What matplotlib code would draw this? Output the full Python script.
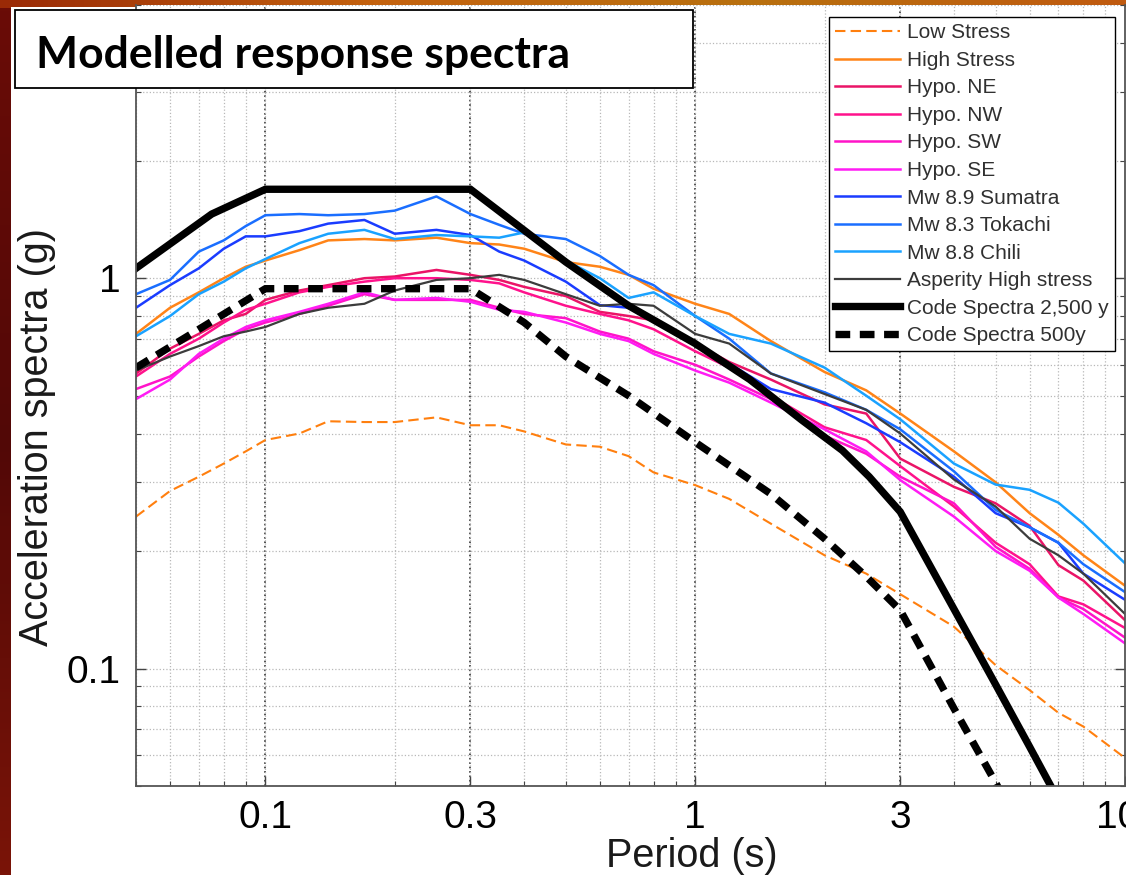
import matplotlib
matplotlib.use("Agg")
import matplotlib.pyplot as plt
import matplotlib.patches as patches
import matplotlib.transforms as mtransforms
import numpy as np

# periods (s) shared by the modelled spectra
periods = [0.05, 0.06, 0.07, 0.08, 0.09, 0.10, 0.12, 0.14, 0.17, 0.20,
           0.25, 0.30, 0.35, 0.40, 0.50, 0.60, 0.70, 0.80, 1.0, 1.2,
           1.5, 2.0, 2.5, 3.0, 4.0, 5.0, 6.0, 7.0, 8.0, 10.0]

low_stress = [0.245, 0.285, 0.31, 0.335, 0.36, 0.385, 0.40, 0.43, 0.428, 0.428,
              0.44, 0.42, 0.42, 0.405, 0.375, 0.37, 0.35, 0.318, 0.295, 0.272,
              0.235, 0.195, 0.175, 0.155, 0.128, 0.102, 0.088, 0.077, 0.071, 0.059]
high_stress = [0.72, 0.84, 0.92, 1.0, 1.07, 1.11, 1.18, 1.25, 1.26, 1.25,
               1.27, 1.23, 1.22, 1.19, 1.10, 1.07, 1.02, 0.94, 0.86, 0.81,
               0.69, 0.575, 0.516, 0.45, 0.36, 0.30, 0.25, 0.22, 0.195, 0.163]
hypo_ne = [0.57, 0.66, 0.72, 0.78, 0.81, 0.88, 0.93, 0.96, 1.0, 1.01,
           1.05, 1.02, 0.99, 0.95, 0.90, 0.82, 0.80, 0.78, 0.68, 0.61,
           0.55, 0.475, 0.45, 0.345, 0.292, 0.265, 0.232, 0.184, 0.168, 0.133]
hypo_nw = [0.56, 0.64, 0.70, 0.77, 0.83, 0.86, 0.92, 0.95, 0.98, 1.0,
           1.0, 0.99, 0.97, 0.92, 0.85, 0.81, 0.78, 0.74, 0.65, 0.59,
           0.50, 0.415, 0.385, 0.33, 0.26, 0.21, 0.185, 0.153, 0.146, 0.127]
hypo_sw = [0.52, 0.56, 0.63, 0.69, 0.74, 0.77, 0.81, 0.85, 0.91, 0.88,
           0.88, 0.88, 0.84, 0.81, 0.79, 0.73, 0.70, 0.65, 0.60, 0.55,
           0.49, 0.395, 0.355, 0.31, 0.265, 0.205, 0.18, 0.152, 0.142, 0.12]
hypo_se = [0.49, 0.55, 0.64, 0.70, 0.75, 0.78, 0.82, 0.86, 0.92, 0.88,
           0.89, 0.87, 0.83, 0.82, 0.77, 0.72, 0.69, 0.64, 0.58, 0.54,
           0.48, 0.41, 0.36, 0.304, 0.245, 0.20, 0.178, 0.152, 0.138, 0.116]
sumatra = [0.84, 0.96, 1.06, 1.19, 1.28, 1.28, 1.32, 1.38, 1.41, 1.30,
           1.33, 1.29, 1.17, 1.11, 0.98, 0.853, 0.84, 0.79, 0.675, 0.605,
           0.52, 0.48, 0.425, 0.38, 0.31, 0.25, 0.23, 0.21, 0.175, 0.15]
tokachi = [0.91, 0.99, 1.17, 1.25, 1.36, 1.45, 1.46, 1.45, 1.46, 1.49,
           1.62, 1.46, 1.37, 1.30, 1.26, 1.14, 1.02, 0.96, 0.80, 0.70,
           0.57, 0.51, 0.46, 0.41, 0.32, 0.255, 0.23, 0.21, 0.185, 0.157]
chili = [0.71, 0.80, 0.91, 0.98, 1.06, 1.12, 1.23, 1.30, 1.33, 1.26,
         1.29, 1.28, 1.27, 1.31, 1.11, 1.00, 0.89, 0.92, 0.80, 0.72,
         0.68, 0.59, 0.50, 0.435, 0.335, 0.296, 0.287, 0.266, 0.235, 0.186]
asperity = [0.58, 0.63, 0.67, 0.71, 0.73, 0.75, 0.81, 0.84, 0.86, 0.93,
            0.99, 1.0, 1.02, 0.99, 0.91, 0.85, 0.86, 0.85, 0.72, 0.68,
            0.57, 0.505, 0.46, 0.40, 0.305, 0.26, 0.215, 0.195, 0.175, 0.138]

# design code spectra
code_t_2500 = [0.05, 0.075, 0.1, 0.3, 0.5, 0.7, 1.0, 1.34, 1.77, 2.2, 2.54, 3.0,
               4.0, 5.0, 6.0, 7.0, 8.0, 10.0]
code_sa_2500 = [1.06, 1.46, 1.69, 1.69, 1.10, 0.85, 0.68, 0.55, 0.433, 0.362, 0.31, 0.252,
                0.142, 0.091, 0.063, 0.046, 0.035, 0.0225]
code_t_500 = [0.05, 0.1, 0.3, 0.4, 0.5, 0.7, 1.0, 1.5, 2.0, 2.5, 3.0,
              4.0, 5.0, 6.0, 7.0, 8.0, 10.0]
code_sa_500 = [0.59, 0.94, 0.94, 0.77, 0.63, 0.50, 0.38, 0.28, 0.215, 0.172, 0.141,
               0.079, 0.051, 0.035, 0.026, 0.020, 0.0127]

x_ticks = [0.1, 0.3, 1, 3, 10]
x_tick_labels = ["0.1", "0.3", "1", "3", "10"]
y_ticks = [0.1, 1]
y_tick_labels = ["0.1", "1"]

W, H = 1126, 875


def fx(px):
    return px / W


def fy(py):
    return 1 - py / H


plt.rcParams["font.family"] = ["Liberation Sans", "DejaVu Sans"]

fig = plt.figure(figsize=(W / 100, H / 100), dpi=100)
fig.patch.set_facecolor("#5e0c08")

# slide background strips
bg = fig.add_axes([0, 0, 1, 1], zorder=-10)
bg.axis("off")
grad = np.linspace(0, 1, 256).reshape(1, -1)
bg.imshow(grad, extent=[0, 1, fy(8), 1], aspect="auto",
          cmap=matplotlib.colors.LinearSegmentedColormap.from_list(
              "top", ["#9a2a06", "#c4620e", "#b8700e", "#c05a10"]))
vgrad = np.linspace(0, 1, 256).reshape(-1, 1)
bg.imshow(vgrad, extent=[0, fx(11), 0, fy(8)], aspect="auto",
          cmap=matplotlib.colors.LinearSegmentedColormap.from_list(
              "left", ["#6a0c06", "#520806", "#7a1408"]))
bg.add_patch(patches.Rectangle((fx(11), 0), 1 - fx(11), fy(7), facecolor="white",
                               edgecolor="none"))
bg.set_xlim(0, 1)
bg.set_ylim(0, 1)

ax = fig.add_axes([fx(136), fy(786), fx(1125) - fx(136), fy(5.4) - fy(786)])
ax.set_xscale("log")
ax.set_yscale("log")
ax.set_xlim(0.05, 10)
ax.set_ylim(0.05, 5)

# grid (MATLAB style dotted)
ax.set_axisbelow(True)
ax.grid(which="both", ls=":", color="#b8b8b8", lw=0.9)
for xv in [0.1, 0.3, 1, 3]:
    ax.axvline(xv, ls=":", color="#333333", lw=1.2, zorder=0.5)

lw = 1.8
ax.plot(periods, low_stress, color="#ff7f0e", lw=1.5, dashes=(5, 2.5), label="Low Stress")
ax.plot(periods, high_stress, color="#ff8418", lw=lw, label="High Stress")
ax.plot(periods, hypo_ne, color="#ea1467", lw=lw, label="Hypo. NE")
ax.plot(periods, hypo_nw, color="#ff128c", lw=lw, label="Hypo. NW")
ax.plot(periods, hypo_sw, color="#ff14c8", lw=lw, label="Hypo. SW")
ax.plot(periods, hypo_se, color="#ff1cf4", lw=lw, label="Hypo. SE")
ax.plot(periods, sumatra, color="#1a3cff", lw=lw, label="Mw 8.9 Sumatra")
ax.plot(periods, tokachi, color="#1a6eff", lw=lw, label="Mw 8.3 Tokachi")
ax.plot(periods, chili, color="#1aa2ff", lw=lw, label="Mw 8.8 Chili")
ax.plot(periods, asperity, color="#3c3c3c", lw=1.6, label="Asperity High stress")
ax.plot(code_t_2500, code_sa_2500, color="black", lw=5.3, solid_joinstyle="miter",
        label="Code Spectra 2,500 y")
ax.plot(code_t_500, code_sa_500, color="black", lw=5.3, dashes=(2.0, 1.3),
        dash_capstyle="butt", label="Code Spectra 500y")

ax.set_xticks(x_ticks)
ax.set_xticklabels(x_tick_labels)
ax.set_yticks(y_ticks)
ax.set_yticklabels(y_tick_labels)
ax.tick_params(which="major", direction="in", length=7, width=1, color="#444444",
               labelsize=28, top=False, right=True)
ax.tick_params(axis="x", which="major", pad=10)
ax.tick_params(axis="y", which="major", pad=11)
ax.tick_params(which="minor", direction="in", length=3.5, width=0.8, color="#444444",
               top=False, right=True)
ax.yaxis.set_minor_formatter(matplotlib.ticker.NullFormatter())
ax.xaxis.set_minor_formatter(matplotlib.ticker.NullFormatter())
for side in ["left", "bottom", "right"]:
    ax.spines[side].set_color("#555555")
    ax.spines[side].set_linewidth(1.3)
ax.spines["top"].set_visible(False)

# the "10" label sits a little left of the edge, as in the slide
last = ax.get_xticklabels()[-1]
last.set_transform(last.get_transform() +
                   mtransforms.ScaledTranslation(-7 / 100, 0, fig.dpi_scale_trans))

leg = ax.legend(loc="upper right", bbox_to_anchor=(fx(1115), fy(17)),
                bbox_transform=fig.transFigure, fontsize=15, frameon=True,
                fancybox=False, edgecolor="black", framealpha=1,
                handlelength=3.1, handletextpad=0.35, labelspacing=0.41,
                borderpad=0.3, borderaxespad=0)
leg.get_frame().set_linewidth(1.0)
for t in leg.get_texts():
    t.set_color("#303030")

fig.text(fx(37), fy(437), "Acceleration spectra (g)", rotation=90,
         ha="center", va="center", fontsize=28.5, color="#1a1a1a")
fig.text(fx(692), fy(867), "Period (s)", ha="center", va="baseline",
         fontsize=28.5, color="#1a1a1a")

# title box
fig.add_artist(patches.Rectangle((fx(15), fy(88)), fx(693) - fx(15), fy(10) - fy(88),
                                 transform=fig.transFigure, facecolor="white",
                                 edgecolor="black", lw=1.3, zorder=5))
fig.text(fx(36), fy(68), "Modelled response spectra", ha="left", va="baseline",
         fontsize=32, fontweight="bold", family=["Lato", "DejaVu Sans"], zorder=6)

fig.savefig("out.png", dpi=100, facecolor=fig.get_facecolor())
